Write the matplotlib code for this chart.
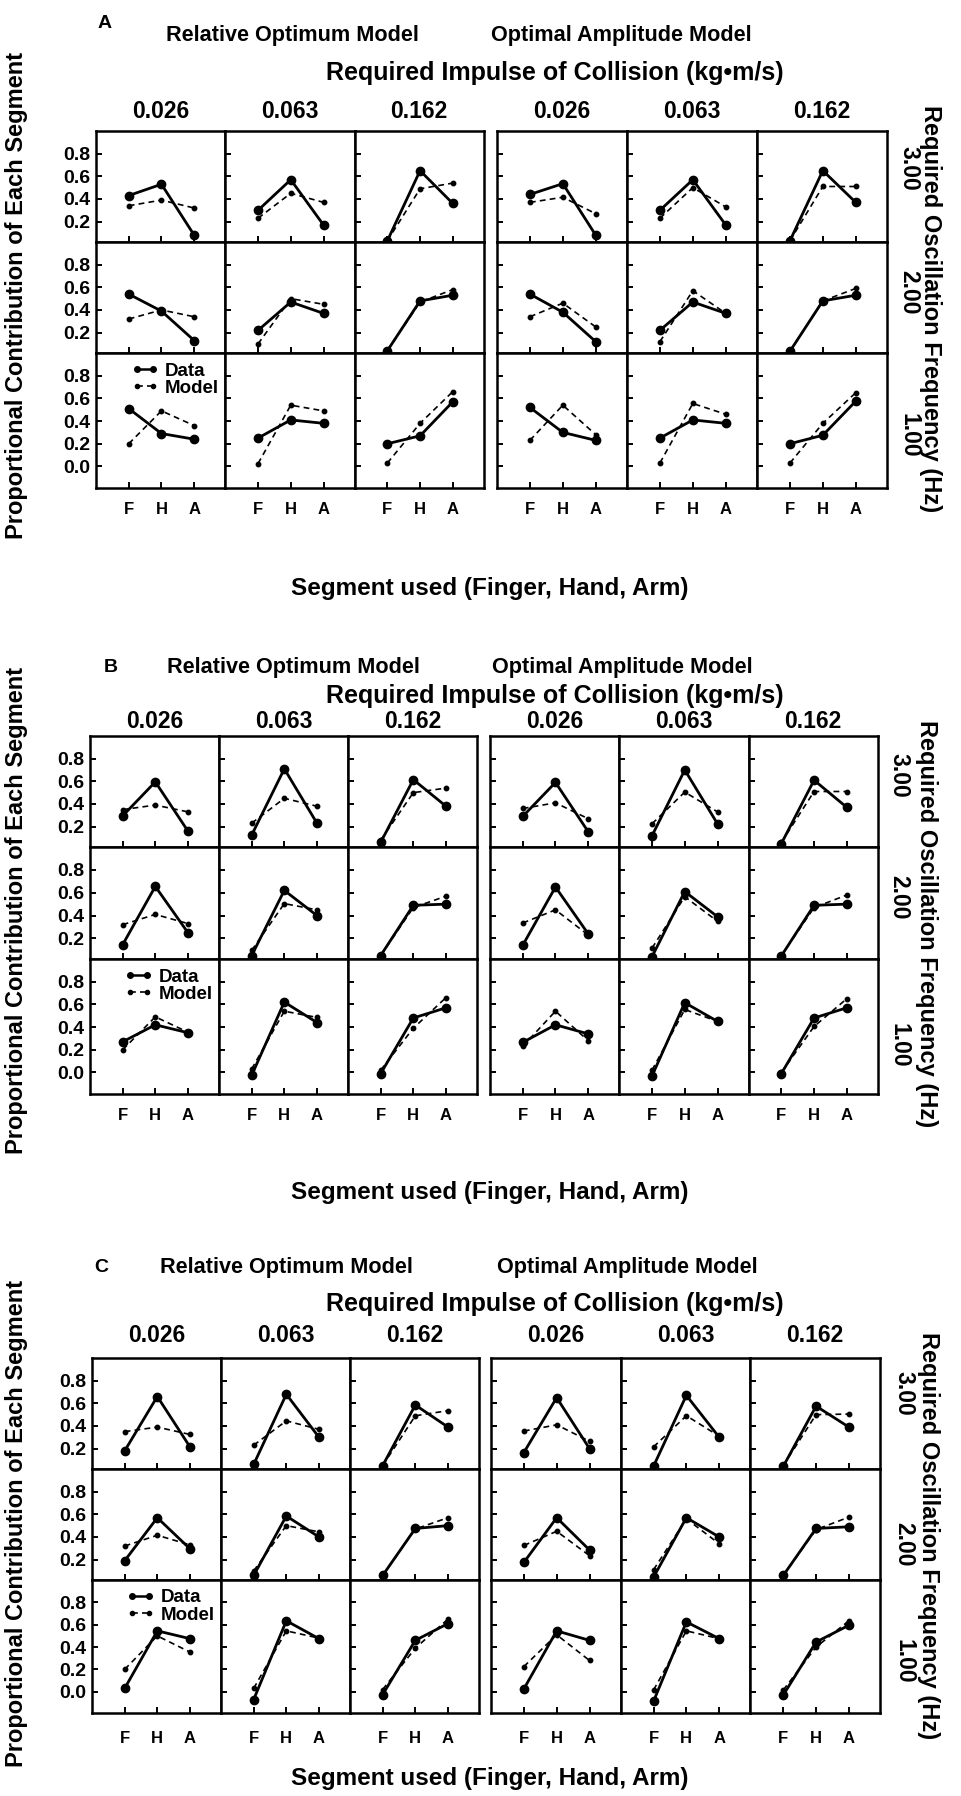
import matplotlib
matplotlib.use('Agg')
import matplotlib.pyplot as plt
from matplotlib.lines import Line2D

plt.rcParams['font.family'] = ['Liberation Sans', 'DejaVu Sans']
plt.rcParams['font.weight'] = 'bold'

# ---------------- data ----------------
segments = ['F', 'H', 'A']
impulses = ['0.026', '0.063', '0.162']
frequencies = ['3.00', '2.00', '1.00']
model_names = ['Relative Optimum Model', 'Optimal Amplitude Model']
panel_letters = ['A', 'B', 'C']

# rows = frequency (3.00, 2.00, 1.00); cols = impulse (0.026, 0.063, 0.162); values = F, H, A
A_RO_data = [[[0.43, 0.53, 0.08], [0.30, 0.57, 0.17], [0.03, 0.65, 0.36]],
             [[0.54, 0.39, 0.13], [0.22, 0.47, 0.37], [0.04, 0.48, 0.53]],
             [[0.51, 0.29, 0.24], [0.25, 0.41, 0.38], [0.20, 0.27, 0.57]]]
A_RO_model = [[[0.34, 0.39, 0.32], [0.23, 0.45, 0.37], [0.03, 0.49, 0.54]],
              [[0.32, 0.40, 0.34], [0.10, 0.50, 0.45], [0.04, 0.47, 0.58]],
              [[0.20, 0.49, 0.36], [0.025, 0.54, 0.49], [0.03, 0.38, 0.66]]]
A_OA_data = [[[0.44, 0.535, 0.08], [0.30, 0.57, 0.17], [0.03, 0.65, 0.37]],
             [[0.54, 0.38, 0.12], [0.22, 0.47, 0.37], [0.035, 0.48, 0.53]],
             [[0.52, 0.30, 0.23], [0.25, 0.41, 0.38], [0.20, 0.275, 0.575]]]
A_OA_model = [[[0.37, 0.415, 0.27], [0.23, 0.50, 0.33], [0.03, 0.51, 0.51]],
              [[0.34, 0.46, 0.25], [0.12, 0.57, 0.37], [0.035, 0.48, 0.59]],
              [[0.23, 0.54, 0.28], [0.03, 0.555, 0.46], [0.03, 0.38, 0.65]]]

B_RO_data = [[[0.295, 0.595, 0.16], [0.125, 0.71, 0.23], [0.06, 0.615, 0.38]],
             [[0.145, 0.655, 0.25], [0.05, 0.62, 0.40], [0.05, 0.49, 0.50]],
             [[0.27, 0.42, 0.35], [-0.025, 0.62, 0.44], [-0.01, 0.48, 0.57]]]
B_RO_model = [[[0.35, 0.39, 0.33], [0.23, 0.45, 0.38], [0.08, 0.50, 0.54]],
              [[0.32, 0.41, 0.33], [0.095, 0.505, 0.45], [0.05, 0.47, 0.57]],
              [[0.20, 0.49, 0.355], [0.03, 0.54, 0.485], [0.02, 0.39, 0.66]]]
B_OA_data = [[[0.29, 0.59, 0.155], [0.12, 0.70, 0.225], [0.05, 0.61, 0.37]],
             [[0.14, 0.65, 0.24], [0.04, 0.61, 0.39], [0.047, 0.49, 0.50]],
             [[0.265, 0.42, 0.34], [-0.03, 0.615, 0.45], [-0.01, 0.48, 0.57]]]
B_OA_model = [[[0.36, 0.41, 0.27], [0.225, 0.505, 0.33], [0.06, 0.51, 0.51]],
              [[0.335, 0.45, 0.23], [0.115, 0.565, 0.35], [0.05, 0.47, 0.58]],
              [[0.23, 0.54, 0.28], [0.02, 0.555, 0.45], [0.0, 0.405, 0.65]]]

C_RO_data = [[[0.18, 0.66, 0.215], [0.06, 0.68, 0.30], [0.05, 0.585, 0.39]],
             [[0.19, 0.57, 0.295], [0.06, 0.585, 0.40], [0.06, 0.475, 0.50]],
             [[0.03, 0.545, 0.475], [-0.07, 0.635, 0.475], [-0.025, 0.46, 0.61]]]
C_RO_model = [[[0.35, 0.39, 0.325], [0.23, 0.445, 0.37], [0.05, 0.49, 0.535]],
              [[0.32, 0.415, 0.33], [0.10, 0.50, 0.445], [0.06, 0.47, 0.57]],
              [[0.20, 0.50, 0.355], [0.03, 0.545, 0.48], [0.02, 0.39, 0.65]]]
C_OA_data = [[[0.165, 0.65, 0.20], [0.045, 0.67, 0.30], [0.043, 0.575, 0.39]],
             [[0.175, 0.57, 0.285], [0.045, 0.57, 0.40], [0.06, 0.475, 0.49]],
             [[0.025, 0.545, 0.46], [-0.085, 0.625, 0.475], [-0.03, 0.445, 0.595]]]
C_OA_model = [[[0.355, 0.41, 0.265], [0.215, 0.49, 0.31], [0.05, 0.50, 0.505]],
              [[0.325, 0.45, 0.235], [0.11, 0.56, 0.34], [0.06, 0.465, 0.575]],
              [[0.225, 0.51, 0.28], [0.015, 0.545, 0.475], [0.015, 0.40, 0.635]]]

panel_data = {
    'A': [(A_RO_data, A_RO_model), (A_OA_data, A_OA_model)],
    'B': [(B_RO_data, B_RO_model), (B_OA_data, B_OA_model)],
    'C': [(C_RO_data, C_RO_model), (C_OA_data, C_OA_model)],
}

# ---------------- layout (pixels) ----------------
W, H = 962, 1796
layout = {
    'A': dict(left=[96, 497], colw=[129.3, 130.0], top=131, rows=[111, 111, 135],
              letter=(105, 23), title_y=36, title_x=[292, 621], imp_y=73, imp_x=555,
              val_y=111, seg_y=588, ylab=(17, 295), rlab=(931, 309), fx=909,
              fy=[168, 292, 435], xpad=10),
    'B': dict(left=[90, 490], colw=[129.0, 129.3], top=736, rows=[111, 112, 135],
              letter=(111, 668), title_y=668, title_x=[293, 622], imp_y=696, imp_x=555,
              val_y=722, seg_y=1193, ylab=(17, 910), rlab=(927, 924), fx=899,
              fy=[775, 897, 1045], xpad=10),
    'C': dict(left=[92, 491], colw=[129.0, 129.7], top=1358, rows=[111, 111, 133],
              letter=(101, 1267), title_y=1267, title_x=[286, 627], imp_y=1304, imp_x=555,
              val_y=1336, seg_y=1779, ylab=(17, 1523), rlab=(929, 1536), fx=904,
              fy=[1393, 1544, 1661], xpad=13),
}

fig = plt.figure(figsize=(W / 100, H / 100), dpi=100)


def add_ax(l, t, w, h):
    return fig.add_axes([l / W, 1 - (t + h) / H, w / W, h / H])


def ftext(x, y, s, **kw):
    kw.setdefault('ha', 'center')
    kw.setdefault('va', 'center')
    kw.setdefault('fontweight', 'bold')
    fig.text(x / W, 1 - y / H, s, **kw)


xpos = [0, 1, 2]
for p in panel_letters:
    L = layout[p]
    for g in range(2):
        data_set, model_set = panel_data[p][g]
        for c in range(3):
            x0 = L['left'][g] + c * L['colw'][g]
            y0 = L['top']
            for r in range(3):
                h = L['rows'][r]
                ax = add_ax(x0, y0, L['colw'][g], h)
                y0 += h
                ax.plot(xpos, model_set[r][c], color='black', lw=1.2,
                        linestyle=(0, (3.5, 2.5)), marker='o', ms=3.2,
                        clip_on=False, zorder=3)
                ax.plot(xpos, data_set[r][c], color='black', lw=2.0,
                        marker='o', ms=6, clip_on=False, zorder=4)
                ax.set_xlim(-1.0, 2.95)
                if r < 2:
                    ax.set_ylim(0.02, 1.0)
                    ax.set_yticks([0.2, 0.4, 0.6, 0.8])
                else:
                    ax.set_ylim(-0.19, 1.0)
                    ax.set_yticks([0.0, 0.2, 0.4, 0.6, 0.8])
                ax.set_xticks(xpos)
                ax.tick_params(direction='in', length=4, width=1.4,
                               top=False, right=False)
                ax.tick_params(axis='y', labelsize=14, pad=4)
                ax.tick_params(axis='x', labelsize=12, pad=L['xpad'])
                if g == 0 and c == 0:
                    ax.set_yticklabels([f'{v:.1f}' for v in ax.get_yticks()],
                                       fontweight='bold')
                else:
                    ax.set_yticklabels([])
                if r == 2:
                    ax.set_xticklabels(segments, fontweight='bold')
                else:
                    ax.set_xticklabels([])
                for s in ax.spines.values():
                    s.set_linewidth(1.8)
                if g == 0 and c == 0 and r == 2:
                    handles = [
                        Line2D([], [], color='black', lw=1.8, marker='o', ms=4),
                        Line2D([], [], color='black', lw=1.2,
                               linestyle=(0, (3.5, 2.5)), marker='o', ms=3),
                    ]
                    ax.legend(handles, ['Data', 'Model'], loc='upper left',
                              bbox_to_anchor=(0.27, 0.93), frameon=False,
                              numpoints=2, handlelength=1.5, handletextpad=0.3,
                              borderpad=0.0, borderaxespad=0.0,
                              labelspacing=0.0,
                              prop=dict(size=13.5, weight='bold'))

    # texts
    ftext(*L['letter'], p, fontsize=14)
    for g in range(2):
        ftext(L['title_x'][g], L['title_y'], model_names[g], fontsize=15.6)
        for c in range(3):
            cx = L['left'][g] + (c + 0.5) * L['colw'][g]
            ftext(cx, L['val_y'], impulses[c], fontsize=16.5)
    ftext(L['imp_x'], L['imp_y'], 'Required Impulse of Collision (kg\u2022m/s)',
          fontsize=18)
    ftext(490, L['seg_y'], 'Segment used (Finger, Hand, Arm)', fontsize=17.5)
    ftext(*L['ylab'], 'Proportional Contribution of Each Segment', fontsize=17,
          rotation=90)
    ftext(*L['rlab'], 'Required Oscillation Frequency (Hz)', fontsize=17,
          rotation=-90)
    for r in range(3):
        ftext(L['fx'], L['fy'][r], frequencies[r], fontsize=16.5, rotation=-90)

fig.savefig('out.png', dpi=100)
